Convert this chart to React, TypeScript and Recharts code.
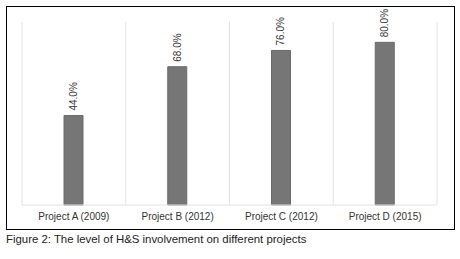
import { Bar, BarChart, CartesianGrid, LabelList, XAxis, YAxis } from "recharts";

const projects = ["Project A (2009)", "Project B (2012)", "Project C (2012)", "Project D (2015)"];
const involvement = [0.44, 0.68, 0.76, 0.8];
const caption = "Figure 2: The level of H&S involvement on different projects";

const data = projects.map((name, i) => ({ name, value: involvement[i] }));

const FONT = "'Liberation Sans', Arial, sans-serif";

function RotatedLabel(props: any) {
  const { x, y, width, value } = props;
  const cx = Number(x) + Number(width) / 2;
  const ty = Number(y) - 5;
  return (
    <text
      x={cx}
      y={ty}
      transform={`rotate(-90 ${cx} ${ty})`}
      textAnchor="start"
      dominantBaseline="central"
      fontSize={10}
      fontFamily={FONT}
      fill="#333"
    >
      {(Number(value) * 100).toFixed(1)}%
    </text>
  );
}

export default function App() {
  return (
    <div
      style={{
        position: "absolute",
        left: 0,
        top: 0,
        width: 460,
        height: 259,
        background: "#fff",
        fontFamily: FONT,
      }}
    >
      <div
        style={{
          position: "absolute",
          left: 6,
          top: 6,
          width: 447,
          height: 222,
          border: "1px solid #000",
        }}
      >
        <BarChart
          width={447}
          height={222}
          data={data}
          margin={{ top: 15, right: 17, bottom: 4, left: 15 }}
        >
          <CartesianGrid
            horizontal={false}
            stroke="#e2e2e2"
            verticalCoordinatesGenerator={({ offset }: any) =>
              projects.map((_, i) => offset.left + (i * offset.width) / projects.length).concat(offset.left + offset.width)
            }
          />
          <XAxis
            dataKey="name"
            height={20}
            axisLine={{ stroke: "#e2e2e2" }}
            tickLine={false}
            tick={{ fill: "#333", fontSize: 10, fontFamily: FONT }}
          />
          <YAxis hide domain={[0, 0.9]} />
          <Bar dataKey="value" fill="#767676" stroke="#6a6a6a" barSize={19} isAnimationActive={false}>
            <LabelList dataKey="value" content={<RotatedLabel />} />
          </Bar>
        </BarChart>
      </div>
      <div
        style={{
          position: "absolute",
          left: 6,
          top: 233,
          fontSize: 11.4,
          color: "#222",
          whiteSpace: "nowrap",
        }}
      >
        {caption}
      </div>
    </div>
  );
}
